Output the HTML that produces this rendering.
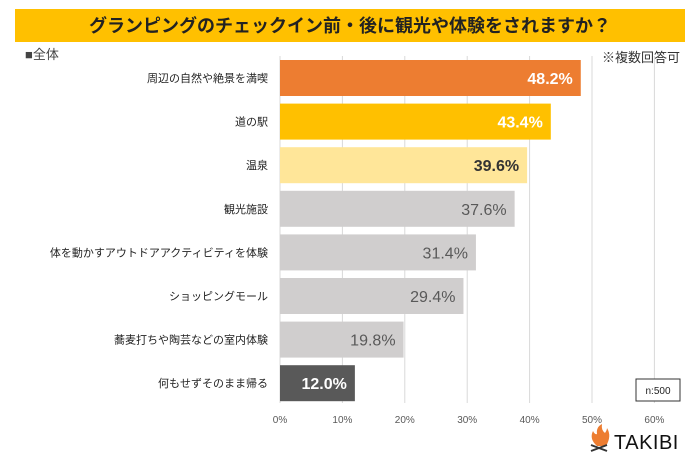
<!DOCTYPE html>
<html><head><meta charset="utf-8"><style>
body{margin:0;width:700px;height:465px;background:#fff;font-family:"Liberation Sans","Noto Sans CJK JP",sans-serif;overflow:hidden}
svg text{font-family:"Liberation Sans","Noto Sans CJK JP",sans-serif}
</style></head><body>
<svg width="700" height="465">
<rect x="15" y="9" width="670" height="33" fill="#FFC000"/>
<text x="350" y="32" text-anchor="middle" font-size="18" font-weight="bold" fill="#222">グランピングのチェックイン前・後に観光や体験をされますか？</text>
<text x="25" y="59" font-size="13" fill="#444">■全体</text>
<text x="680" y="62" text-anchor="end" font-size="13" fill="#333">※複数回答可</text>
<g id="grid"></g>
<g id="bars"></g>
<g id="ticks"></g>
<rect x="636" y="379" width="44" height="22" fill="#fff" stroke="#333"/>
<text x="658" y="394" text-anchor="middle" font-size="10" fill="#222">n:500</text>
<g>
<path d="M597 446 Q589 439 593 431 Q595 435 597 434 Q596 427 602 424 Q601 430 605 433 Q607 430 607 428 Q612 436 606 446 Z" fill="#ED7D31"/>
<path d="M591 451 L607 445 M591 445 L607 451" stroke="#333" stroke-width="2"/>
<text x="614" y="449" font-size="20" fill="#111" letter-spacing="0.5">TAKIBI</text>
</g>
</svg>
<script>
const categories=["周辺の自然や絶景を満喫","道の駅","温泉","観光施設","体を動かすアウトドアアクティビティを体験","ショッピングモール","蕎麦打ちや陶芸などの室内体験","何もせずそのまま帰る"];
const values=[48.2,43.4,39.6,37.6,31.4,29.4,19.8,12.0];
const tickValues=[0,10,20,30,40,50,60];
const colors=["#ED7D31","#FFC000","#FFE699","#D0CECE","#D0CECE","#D0CECE","#D0CECE","#595959"];
const labelColors=["#fff","#fff","#333","#595959","#595959","#595959","#595959","#fff"];
const labelBold=[true,true,true,false,false,false,false,true];
const NS="http://www.w3.org/2000/svg";
const x=v=>280+v*6.24;
const y=i=>60+i*43.6;
const bh=36;
function mk(tag,attrs,parent){const e=document.createElementNS(NS,tag);for(const k in attrs)e.setAttribute(k,attrs[k]);document.getElementById(parent).appendChild(e);return e;}
tickValues.forEach(t=>{
 const l=mk('line',{x1:x(t),x2:x(t),y1:56,y2:403,stroke:'#d9d9d9','stroke-width':1},'grid');
 
 
 const tx=mk('text',{x:x(t),y:423,'text-anchor':'middle','font-size':10,fill:'#595959'},'ticks');
 tx.textContent=t+'%';
 
 
});
categories.forEach((c,i)=>{
 const r=mk('rect',{x:x(0),y:y(i),width:x(values[i])-x(0),height:bh,fill:colors[i]},'bars');
 
 
 const cl=mk('text',{x:268,y:y(i)+bh/2+4,'text-anchor':'end','font-size':11,fill:'#222'},'bars');
 cl.textContent=c;
 
 
 const vl=mk('text',{x:x(values[i])-8,y:y(i)+bh/2+6,'text-anchor':'end','font-size':16,fill:labelColors[i],'font-weight':labelBold[i]?'bold':'normal'},'bars');
 vl.textContent=values[i].toFixed(1)+'%';
 
 
});
</script>
</body></html>
